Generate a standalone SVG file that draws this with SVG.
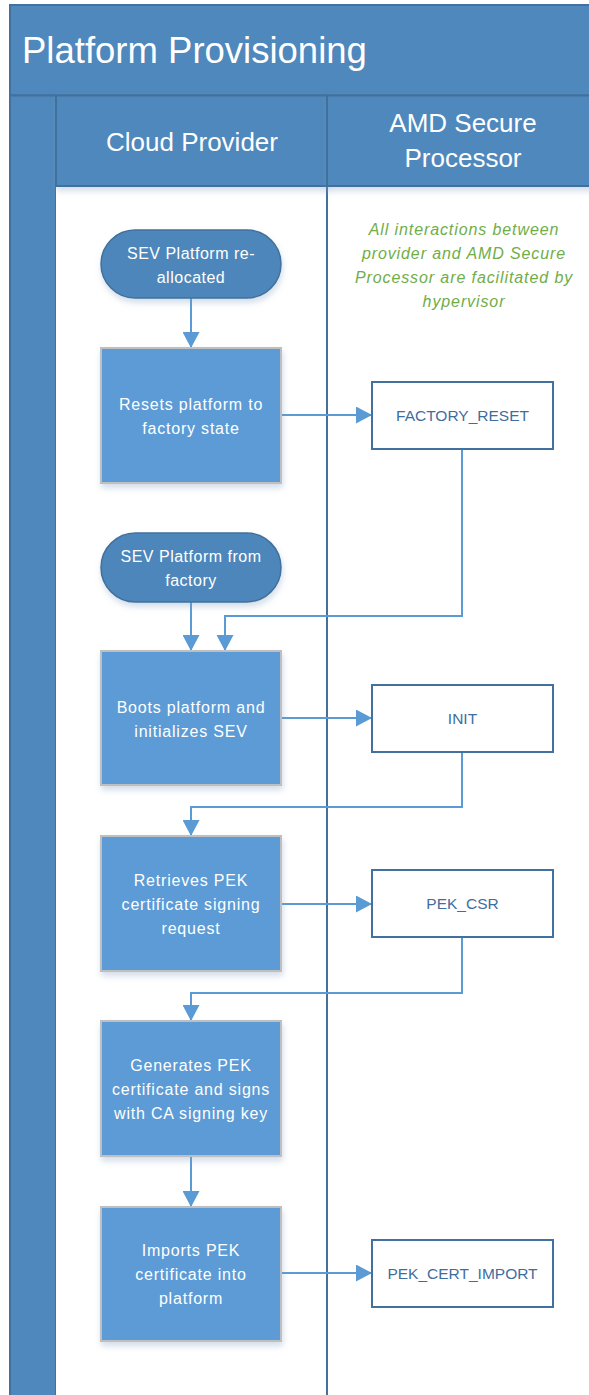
<svg xmlns="http://www.w3.org/2000/svg" width="589" height="1395" viewBox="0 0 589 1395">
<defs>
<style>
.band{fill:#4F88BC;stroke:#41719C;stroke-width:2}
.hdr{font-family:"Liberation Sans",Arial,sans-serif;fill:#FFFFFF}
.term{fill:#4E86BA;stroke:#41719C;stroke-width:1.5}
.proc{fill:#5B9BD5;stroke:#BFBFBF;stroke-width:2}
.amd{fill:#FFFFFF;stroke:#41719C;stroke-width:2}
.wt{font-family:"Liberation Sans",Arial,sans-serif;font-size:16px;letter-spacing:0.8px;fill:#FFFFFF;text-anchor:middle}
.tt{font-family:"Liberation Sans",Arial,sans-serif;font-size:16px;letter-spacing:0.5px;fill:#FFFFFF;text-anchor:middle}
.bt{font-family:"Liberation Sans",Arial,sans-serif;font-size:15.5px;fill:#3F6E9E;text-anchor:middle}
.note{font-family:"Liberation Sans",Arial,sans-serif;font-size:16px;font-style:italic;letter-spacing:0.9px;fill:#70AD47;text-anchor:middle}
.con{fill:none;stroke:#5B9BD5;stroke-width:2;marker-end:url(#ah)}
</style>
<marker id="ah" viewBox="0 0 16 17" refX="16" refY="8.5" markerWidth="16" markerHeight="17" markerUnits="userSpaceOnUse" orient="auto">
<path d="M0,0 L16,8.5 L0,17 Z" fill="#5B9BD5"/>
</marker>
<filter id="sh" x="-20%" y="-20%" width="140%" height="150%">
<feDropShadow dx="1" dy="4" stdDeviation="3" flood-color="#7F9DC0" flood-opacity="0.35"/>
</filter>
</defs>

<g id="pool">
<rect x="10" y="5" width="600" height="90.5" class="band"/>
<text x="22" y="63" class="hdr" font-size="36.5">Platform Provisioning</text>
<rect x="10" y="95.5" width="46" height="1320" class="band"/>
<rect x="56" y="186" width="560" height="1230" fill="#FFFFFF"/>
<line x1="327" y1="95.5" x2="327" y2="1400" stroke="#41719C" stroke-width="2"/>
</g>
<g id="lane-cloud">
<rect x="56" y="95.5" width="271" height="90.5" class="band" filter="url(#sh)"/>
<text x="192" y="151" class="hdr" font-size="26" text-anchor="middle">Cloud Provider</text>
</g>
<g id="lane-amd">
<rect x="327" y="95.5" width="283" height="90.5" class="band" filter="url(#sh)"/>
<text x="463" y="132" class="hdr" font-size="26" text-anchor="middle">AMD Secure</text>
<text x="463" y="167" class="hdr" font-size="26" text-anchor="middle">Processor</text>
</g>

<g id="note">
<text class="note"><tspan x="464" y="235">All interactions between</tspan><tspan x="464" y="259">provider and AMD Secure</tspan><tspan x="464" y="283">Processor are facilitated by</tspan><tspan x="464" y="307">hypervisor</tspan></text>
</g>

<g id="connectors">
<path class="con" d="M191,298 V348"/>
<path class="con" d="M281,415 H372"/>
<path class="con" d="M462,449 V616 H225 V651"/>
<path class="con" d="M191,602 V651"/>
<path class="con" d="M281,718 H372"/>
<path class="con" d="M462,752 V807 H191 V836"/>
<path class="con" d="M281,904 H372"/>
<path class="con" d="M462,937 V993 H191 V1021"/>
<path class="con" d="M191,1156 V1207"/>
<path class="con" d="M281,1273 H372"/>
</g>

<g id="t1">
<rect x="101" y="230" width="180" height="68" rx="34" class="term" filter="url(#sh)"/>
<text class="tt"><tspan x="191" y="259">SEV Platform re-</tspan><tspan x="191" y="283">allocated</tspan></text>
</g>
<g id="b1">
<rect x="101" y="348" width="180" height="135" class="proc" filter="url(#sh)"/>
<text class="wt"><tspan x="191" y="410">Resets platform to</tspan><tspan x="191" y="434">factory state</tspan></text>
</g>
<g id="factory-reset">
<rect x="372" y="382" width="181" height="67" class="amd"/>
<text x="462.5" y="421" class="bt">FACTORY_RESET</text>
</g>
<g id="t2">
<rect x="101" y="533" width="180" height="69" rx="34.5" class="term" filter="url(#sh)"/>
<text class="tt"><tspan x="191" y="562">SEV Platform from</tspan><tspan x="191" y="586">factory</tspan></text>
</g>
<g id="b2">
<rect x="101" y="651" width="180" height="134" class="proc" filter="url(#sh)"/>
<text class="wt"><tspan x="191" y="713">Boots platform and</tspan><tspan x="191" y="737">initializes SEV</tspan></text>
</g>
<g id="init">
<rect x="372" y="685" width="181" height="67" class="amd"/>
<text x="462.5" y="724" class="bt">INIT</text>
</g>
<g id="b3">
<rect x="101" y="836" width="180" height="135" class="proc" filter="url(#sh)"/>
<text class="wt"><tspan x="191" y="886">Retrieves PEK</tspan><tspan x="191" y="910">certificate signing</tspan><tspan x="191" y="934">request</tspan></text>
</g>
<g id="pek-csr">
<rect x="372" y="870" width="181" height="67" class="amd"/>
<text x="462.5" y="909" class="bt">PEK_CSR</text>
</g>
<g id="b4">
<rect x="101" y="1021" width="180" height="135" class="proc" filter="url(#sh)"/>
<text class="wt"><tspan x="191" y="1071">Generates PEK</tspan><tspan x="191" y="1095">certificate and signs</tspan><tspan x="191" y="1119">with CA signing key</tspan></text>
</g>
<g id="b5">
<rect x="101" y="1207" width="180" height="134" class="proc" filter="url(#sh)"/>
<text class="wt"><tspan x="191" y="1256">Imports PEK</tspan><tspan x="191" y="1280">certificate into</tspan><tspan x="191" y="1304">platform</tspan></text>
</g>
<g id="pek-cert-import">
<rect x="372" y="1240" width="181" height="67" class="amd"/>
<text x="462.5" y="1279" class="bt">PEK_CERT_IMPORT</text>
</g>
</svg>
